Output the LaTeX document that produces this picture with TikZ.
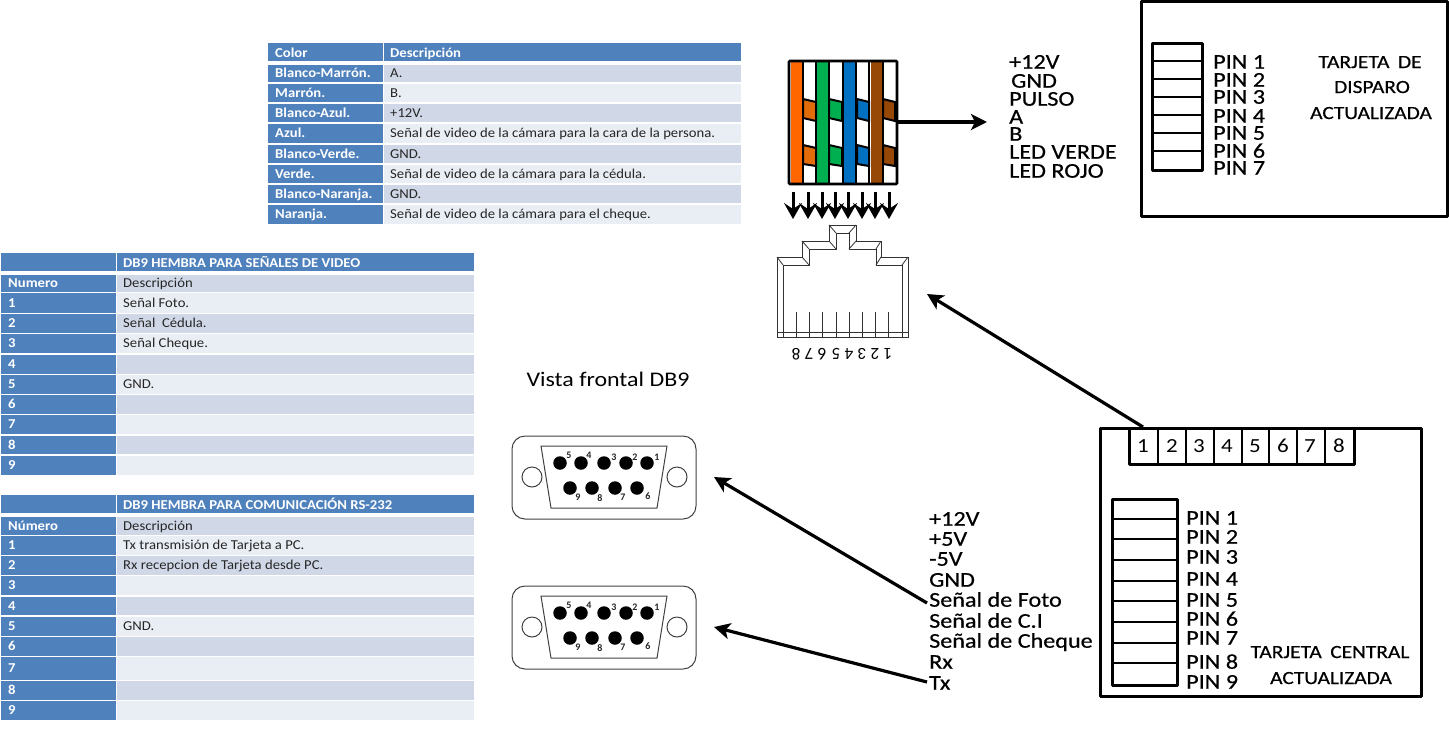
\documentclass[tikz,border=0pt]{standalone}
\usepackage{fontspec}
\setmainfont{Carlito}
\newfontfamily\lab[FakeStretch=1.15,FakeBold=0.5]{Carlito}
\newfontfamily\plainlab[FakeStretch=1.15]{Carlito}
\newfontfamily\tabf[FakeStretch=1.08]{Carlito}
\usetikzlibrary{arrows.meta}
\definecolor{hdr}{HTML}{4F81BD}
\definecolor{bandA}{HTML}{D0D8E8}
\definecolor{bandB}{HTML}{E9EDF4}
\tikzset{
  lbl/.style={anchor=west,inner sep=0pt,text height=13.4pt,text depth=0pt,font=\lab\fontsize{21}{21}\selectfont,text=black},
  lblc/.style={anchor=center,inner sep=0pt,text height=12pt,text depth=0pt,font=\lab\fontsize{18.6}{18.6}\selectfont,text=black},
  cellb/.style={anchor=west,inner sep=0pt,text height=8.6pt,text depth=0pt,text=white,font=\tabf\bfseries\fontsize{13.6}{13.6}\selectfont},
  cellt/.style={anchor=west,inner sep=0pt,text height=8.6pt,text depth=0pt,text=black!85,font=\tabf\fontsize{13.6}{13.6}\selectfont},
  cellh/.style={cellb},
  thick box/.style={draw=black,line width=3pt,line join=round,fill=white},
  thin div/.style={draw=black,line width=1.7pt},
  bigarrow/.style={draw=black,line width=3.2pt,-{Stealth[length=16pt,width=16pt,inset=4pt]}},
  rj/.style={draw=black!80,line width=.8pt,line join=miter},
  dsub/.style={draw=black!75,line width=1pt},
  dpin/.style={fill=black,draw=none,circle,minimum size=13.5pt,inner sep=0pt},
  dnum/.style={inner sep=0pt,font=\rmfamily\bfseries\fontsize{10}{10}\selectfont,text=black!85},
}
\newcommand{\dbnine}[2]{%
  \begin{scope}[yshift=-#1pt]
    \draw[dsub,rounded corners=13pt] (512,436) rectangle (696,519);
    \draw[dsub] (541,446) -- (667,446) -- (657,508) -- (551,508) -- cycle;
    \node[dsub,circle,minimum size=20pt,inner sep=0pt] (#2L) at (532,477) {};
    \node[dsub,circle,minimum size=20pt,inner sep=0pt] (#2R) at (677,477) {};
    \foreach \px/\n in {560/a,581/b,604/c,626/d,647/e} \node[dpin] (#2p\n) at (\px,463) {};
    \foreach \px/\n in {570/f,592/g,615/h,637/i} \node[dpin] (#2p\n) at (\px,488) {};
    \foreach \px/\py/\t in {569/455/5,589/455/4,614/457/3,635/457/2,657/457/1,578/497/9,600/498/8,623/497/7,648/496/6}
      \node[dnum] (#2n\t) at (\px,\py) {\t};
  \end{scope}}
\begin{document}
\begin{tikzpicture}[x=1pt,y=-1pt]
\useasboundingbox (0,0) rectangle (1449,729);
% table 1
\fill[hdr] (268,43) rectangle (382.5,61);
\fill[hdr] (384,43) rectangle (741,61);
\node[cellh] (t1a) at (275,53) {Color};
\node[cellh] (t1b) at (390,53) {Descripción};
\foreach \t/\b/\c/\u/\v in {
 65/82/bandA/Blanco-Marrón./A.,
 84/102/bandB/Marrón./B.,
 104/122/bandA/Blanco-Azul./+12V.,
 124/143/bandB/Azul./Señal de video de la cámara para la cara de la persona.,
 145/163/bandA/Blanco-Verde./GND.,
 165/183/bandB/Verde./Señal de video de la cámara para la cédula.,
 185/203/bandA/Blanco-Naranja./GND.,
 205/224/bandB/Naranja./Señal de video de la cámara para el cheque.}{
  \fill[hdr] (268,\t) rectangle (382.5,\b);
  \fill[\c] (384,\t) rectangle (741,\b);
  \node[cellb] at (275,{(\t+\b)/2}) {\u};
  \node[cellt] at (390,{(\t+\b)/2}) {\v};
}
% table 2
\fill[hdr] (1,253) rectangle (115.5,271);
\fill[hdr] (117,253) rectangle (474,271);
\node[cellh] (t2h) at (123,263) {DB9 HEMBRA PARA SEÑALES DE VIDEO};
\foreach \t/\b/\c/\u/\v in {
 275/292/bandA/Numero/Descripción,
 293/313/bandB/1/Señal Foto.,
 314/333/bandA/2/Señal\ \ Cédula.,
 334/353/bandB/3/Señal Cheque.,
 355/374/bandA/4/{},
 375/394/bandB/5/GND.,
 395/414/bandA/6/{},
 415/434/bandB/7/{},
 436/454/bandA/8/{},
 456/475/bandB/9/{}}{
  \fill[hdr] (1,\t) rectangle (115.5,\b);
  \fill[\c] (117,\t) rectangle (474,\b);
  \node[cellb] at (8,{(\t+\b)/2}) {\u};
  \node[cellt] at (123,{(\t+\b)/2}) {\v};
}
% table 3
\fill[hdr] (1,495) rectangle (115.5,513);
\fill[hdr] (117,495) rectangle (474,513);
\node[cellh] (t3h) at (123,505) {DB9 HEMBRA PARA COMUNICACIÓN RS-232};
\foreach \t/\b/\c/\u/\v in {
 517/535/bandA/Número/Descripción,
 536/555/bandB/1/Tx transmisión de Tarjeta a PC.,
 556/575/bandA/2/Rx recepcion de Tarjeta desde PC.,
 576/595/bandB/3/{},
 597/615/bandA/4/{},
 617/636/bandB/5/GND.,
 637/656/bandA/6/{},
 657/680/bandB/7/{},
 681/700/bandA/8/{},
 701/720/bandB/9/{}}{
  \fill[hdr] (1,\t) rectangle (115.5,\b);
  \fill[\c] (117,\t) rectangle (474,\b);
  \node[cellb] at (8,{(\t+\b)/2}) {\u};
  \node[cellt] at (123,{(\t+\b)/2}) {\v};
}
% DB9
\node[anchor=center,inner sep=0pt,font=\plainlab\fontsize{20.8}{20.8}\selectfont] (vista) at (608,379) {Vista frontal DB9};
\dbnine{0}{A}
\dbnine{150}{B}
\coordinate (dbA) at (714,477);
\coordinate (dbB) at (714,627);
% cable
\fill[white] (789,61) rectangle (897,184);
\foreach \a/\b/\c in {791/802/FF6600,817/828/00B050,844/855/0070C0,871/882/974706}{
  \definecolor{cc}{HTML}{\c}\fill[cc] (\a,61) rectangle (\b,184);
}
\foreach \a/\b/\c in {803/816/E36C0A,829/842/00B050,857/869/0070C0,883/895/974706}{
  \definecolor{cc}{HTML}{\c}
  \filldraw[fill=cc,draw=black,line width=2pt] (\a,99) -- (\b,102) -- (\b,121) -- (\a,118) -- cycle;
  \filldraw[fill=cc,draw=black,line width=2pt] (\a,145) -- (\b,148) -- (\b,166) -- (\a,164) -- cycle;
}
\foreach \a in {803,816,829,843,856,869,883}{\draw[black,line width=2pt] (\a,61) -- (\a,184);}
\node[draw=black,line width=2.8pt,rounded corners=1pt,minimum width=108pt,minimum height=123pt,inner sep=0pt] (cable) at (843,122.5) {};
\foreach \a in {793,808,822,835,848,862,875,889}{
  \draw[black,line width=3pt,-{Stealth[length=16pt,width=18pt,inset=6pt]}] (\a,192) -- (\a,219);
}
\coordinate (lst) at (987,122);
\draw[bigarrow] (cable.east |- lst) -- (lst);
% RJ45
\draw[rj,fill=white] (777,337) -- (777,257) -- (802,257) -- (802,241) -- (829,241) -- (829,225) -- (856,225) -- (856,241) -- (881,241) -- (881,257) -- (908,257) -- (908,337) -- cycle;
\draw[rj] (783,337) -- (783,265) -- (809,265) -- (809,249) -- (836,249) -- (836,233) -- (849,233) -- (849,249) -- (876,249) -- (876,265) -- (902,265) -- (902,337);
\draw[rj] (777,332) -- (908,332);
\draw[rj] (777,257) -- (783,265) (802,241) -- (809,249) (829,225) -- (836,233) (856,225) -- (849,233) (881,241) -- (876,249) (908,257) -- (902,265) (802,257) -- (809,265) (829,241) -- (836,249) (856,241) -- (849,249) (881,257) -- (876,265);
\foreach \a in {796,809,822,836,849,862,875,888}{\draw[rj] (\a,312) -- (\a,337);}
\foreach \a/\d in {888/1,875/2,862/3,849/4,836/5,822/6,809/7,796/8}{
  \node[inner sep=0pt,rotate=180,font=\rmfamily\fontsize{17}{17}\selectfont] (rjn\d) at (\a,354) {\d};
}
% wire labels
\foreach \y/\t in {62/+12V,99/PULSO,117/A,134/B,152/LED VERDE,171/LED ROJO}{
  \node[lbl] at (1009,\y) {\t};
}
\node[lbl] (g1) at (1011,81) {GND};
% Tarjeta de disparo
\node[thick box,minimum width=306pt,minimum height=215pt,inner sep=0pt] (disp) at (1294,108.5) {};
\draw[thick box] (1152,43) rectangle (1202,170);
\foreach \y in {61,79,97,115,133,151}{\draw[thin div] (1152,\y) -- (1202,\y);}
\foreach \y/\t in {62/1,80/2,97/3,116/4,133/5,151/6,168/7}{
  \node[lbl] (dp\t) at (1213,\y) {PIN \t};
}
\node[lblc] (dt1) at (1370,62) {TARJETA\hspace{.2em} DE};
\node[lblc] (dt2) at (1372,87) {DISPARO};
\node[lblc] (dt3) at (1371,113) {ACTUALIZADA};
% Tarjeta central
\node[thick box,minimum width=321pt,minimum height=268pt,inner sep=0pt] (cent) at (1260.5,562) {};
\draw[thick box] (1129,428) rectangle (1354,464);
\foreach \a in {1158,1186,1214,1242,1269,1297,1325}{\draw[black,line width=2.6pt] (\a,428) -- (\a,464);}
\foreach \a/\d in {1143/1,1172/2,1199/3,1227/4,1255/5,1283/6,1310/7,1339/8}{
  \node[inner sep=0pt,font=\plainlab\fontsize{20}{20}\selectfont] (ce\d) at (\a,446) {\d};
}
\draw[thick box] (1112,499) rectangle (1177,685);
\foreach \y in {519,539,560,581,601,622,643,663}{\draw[thin div] (1112,\y) -- (1177,\y);}
\foreach \y/\t in {518/1,537/2,557/3,579/4,600/5,619/6,638/7,662/8,682/9}{
  \node[lbl] (cp\t) at (1186,\y) {PIN \t};
}
\node[lblc] (ct1) at (1330,652) {TARJETA\hspace{.2em} CENTRAL};
\node[lblc] (ct2) at (1331,678) {ACTUALIZADA};
% list
\foreach \y/\n/\t in {519/a/+12V,539/b/+5V,559/c/-5V,580/d/GND,600/e/Señal de Foto,621/f/Señal de C.I,641/g/Señal de Cheque,662/h/Rx,683/i/Tx}{
  \node[lbl] (s\n) at (929,\y) {\t};
}
\coordinate (rjin) at (927,294);
\coordinate (ctop) at (1143,427);
\coordinate (fo) at (927,603);
\coordinate (tx) at (927,682);
\draw[bigarrow] (ctop) -- (rjin);
\draw[bigarrow] (fo) -- (dbA);
\draw[bigarrow] (tx) -- (dbB);
\end{tikzpicture}
\end{document}
